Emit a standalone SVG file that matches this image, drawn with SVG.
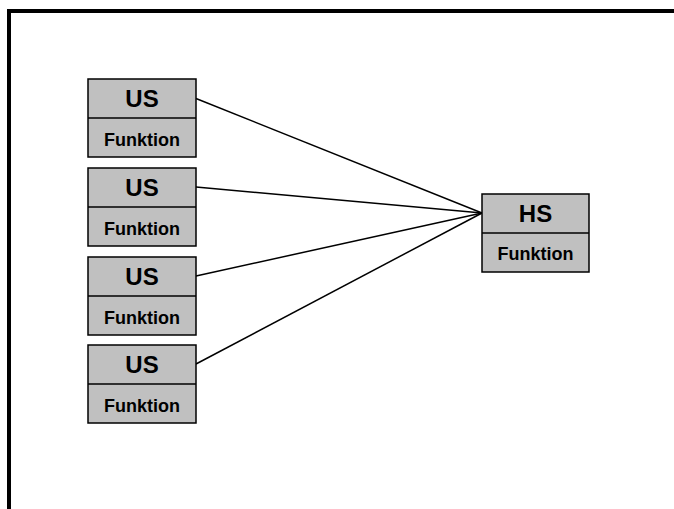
<svg xmlns="http://www.w3.org/2000/svg" width="674" height="509" viewBox="0 0 674 509">
<style>
.box{fill:#c0c0c0;stroke:#000;stroke-width:1.5}
.div{stroke:#000;stroke-width:1.5}
.t1{font-family:"Liberation Sans",Arial,sans-serif;font-weight:bold;font-size:24px;text-anchor:middle}
.t2{font-family:"Liberation Sans",Arial,sans-serif;font-weight:bold;font-size:18px;text-anchor:middle}
.con{stroke:#000;stroke-width:1.5;fill:none}
</style>
<rect width="674" height="509" fill="#fff"/>
<path d="M9 509 V11 H674" fill="none" stroke="#000" stroke-width="4"/>
<g id="connectors">
<line class="con" x1="196" y1="98.5" x2="482" y2="213"/>
<line class="con" x1="196" y1="187" x2="482" y2="213"/>
<line class="con" x1="196" y1="276" x2="482" y2="213"/>
<line class="con" x1="196" y1="364" x2="482" y2="213"/>
</g>
<g id="us1">
<rect class="box" x="88" y="79" width="108" height="78"/>
<line class="div" x1="88" y1="118" x2="196" y2="118"/>
<text class="t1" x="142" y="107">US</text>
<text class="t2" x="142" y="146">Funktion</text>
</g>
<g id="us2">
<rect class="box" x="88" y="168" width="108" height="78"/>
<line class="div" x1="88" y1="207" x2="196" y2="207"/>
<text class="t1" x="142" y="196">US</text>
<text class="t2" x="142" y="235">Funktion</text>
</g>
<g id="us3">
<rect class="box" x="88" y="257" width="108" height="78"/>
<line class="div" x1="88" y1="296" x2="196" y2="296"/>
<text class="t1" x="142" y="285">US</text>
<text class="t2" x="142" y="324">Funktion</text>
</g>
<g id="us4">
<rect class="box" x="88" y="345" width="108" height="78"/>
<line class="div" x1="88" y1="384" x2="196" y2="384"/>
<text class="t1" x="142" y="373">US</text>
<text class="t2" x="142" y="412">Funktion</text>
</g>
<g id="hs">
<rect class="box" x="482" y="194" width="107" height="78"/>
<line class="div" x1="482" y1="233" x2="589" y2="233"/>
<text class="t1" x="535.5" y="222">HS</text>
<text class="t2" x="535.5" y="260">Funktion</text>
</g>
</svg>
